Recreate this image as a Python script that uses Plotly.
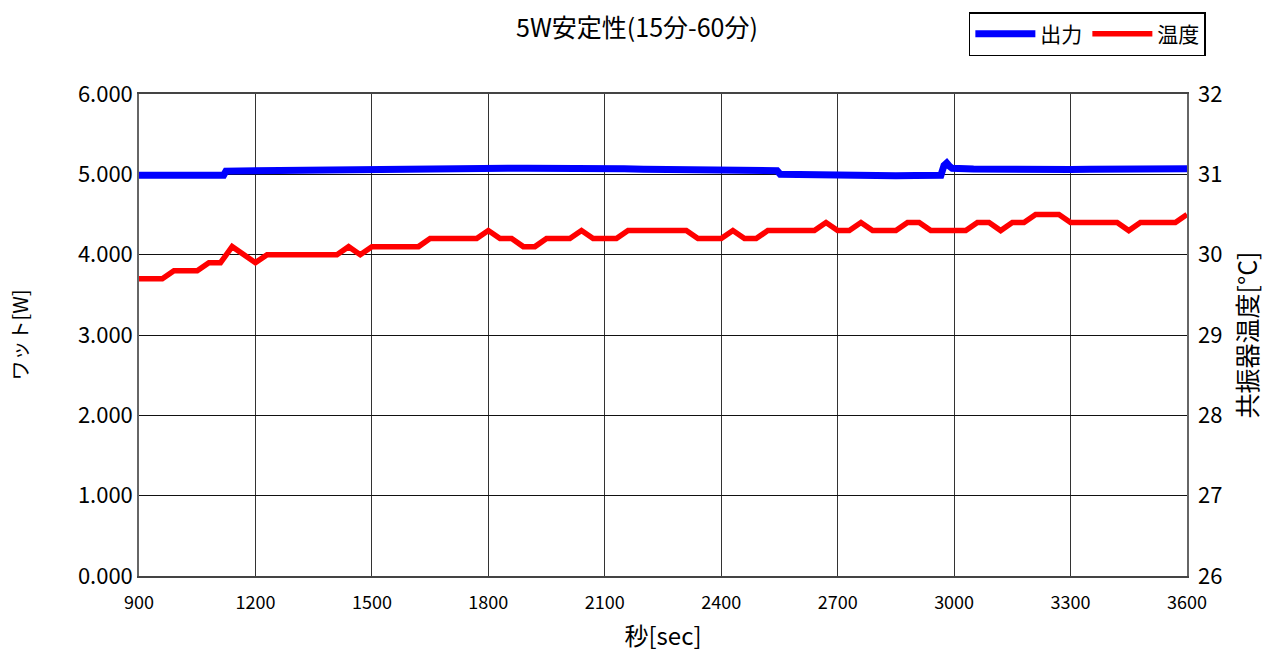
import plotly.graph_objects as go

# Temperature (resonator) every 30 s
temp_time = list(range(900, 3601, 30))
temp_vals = [
    29.7, 29.7, 29.7, 29.8, 29.8, 29.8, 29.9, 29.9, 30.1, 30.0,
    29.9, 30.0, 30.0, 30.0, 30.0, 30.0, 30.0, 30.0, 30.1, 30.0,
    30.1, 30.1, 30.1, 30.1, 30.1, 30.2, 30.2, 30.2, 30.2, 30.2,
    30.3, 30.2, 30.2, 30.1, 30.1, 30.2, 30.2, 30.2, 30.3, 30.2,
    30.2, 30.2, 30.3, 30.3, 30.3, 30.3, 30.3, 30.3, 30.2, 30.2,
    30.2, 30.3, 30.2, 30.2, 30.3, 30.3, 30.3, 30.3, 30.3, 30.4,
    30.3, 30.3, 30.4, 30.3, 30.3, 30.3, 30.4, 30.4, 30.3, 30.3,
    30.3, 30.3, 30.4, 30.4, 30.3, 30.4, 30.4, 30.5, 30.5, 30.5,
    30.4, 30.4, 30.4, 30.4, 30.4, 30.3, 30.4, 30.4, 30.4, 30.4,
    30.5,
]

# Output power
power_time = [900, 950, 1000, 1050, 1100, 1118, 1124, 1150, 1200, 1250, 1300,
              1350, 1400, 1450, 1500, 1550, 1600, 1650, 1700, 1750, 1800,
              1850, 1900, 1950, 2000, 2050, 2100, 2150, 2200, 2250, 2266,
              2272, 2300, 2350, 2400, 2450, 2500, 2544, 2552, 2600, 2650,
              2700, 2750, 2800, 2850, 2900, 2950, 2966, 2974, 2981, 2988,
              2995, 3050, 3100, 3150, 3200, 3250, 3300, 3350, 3400, 3450,
              3500, 3550, 3600]
power_vals = [4.990, 4.992, 4.990, 4.993, 4.990, 4.988, 5.040, 5.042, 5.045, 5.048, 5.050,
              5.055, 5.060, 5.065, 5.070, 5.072, 5.075, 5.078, 5.075, 5.077, 5.075,
              5.076, 5.075, 5.077, 5.075, 5.073, 5.072, 5.068, 5.062, 5.060, 5.060,
              5.045, 5.044, 5.046, 5.045, 5.047, 5.045, 5.045, 5.000, 4.995, 4.990,
              4.982, 4.980, 4.978, 4.982, 4.985, 4.986, 4.988, 5.110, 5.140, 5.100,
              5.075, 5.065, 5.060, 5.058, 5.060, 5.058, 5.060, 5.062, 5.060, 5.062,
              5.065, 5.067, 5.070]

x_ticks = list(range(900, 3601, 300))

FONT = "Noto Sans CJK JP, MS Gothic, sans-serif"

fig = go.Figure()
fig.add_trace(go.Scatter(x=power_time, y=power_vals, mode="lines", name="出力",
                         line=dict(color="#0000ff", width=7), yaxis="y"))
fig.add_trace(go.Scatter(x=temp_time, y=temp_vals, mode="lines", name="温度",
                         line=dict(color="#ff0000", width=5.5), yaxis="y2"))

fig.update_layout(
    width=1266, height=652,
    margin=dict(l=139, r=79, t=94, b=76),
    paper_bgcolor="white", plot_bgcolor="white",
    font=dict(family=FONT, color="black", size=20),
    title=dict(text="5W安定性(15分-60分)", x=637 / 1266, xref="container", xanchor="center",
               y=1 - 28 / 652, yref="container", yanchor="middle",
               font=dict(size=25, family=FONT)),
    showlegend=True,
    legend=dict(orientation="h", x=1.018, xanchor="right", y=(576 - 34) / 482, yanchor="middle",
                bordercolor="black", borderwidth=1.5, bgcolor="white",
                font=dict(size=21, family=FONT), itemwidth=60,
                tracegroupgap=0),
    xaxis=dict(range=[900, 3600], tickvals=x_ticks, ticktext=[str(v) for v in x_ticks],
               showgrid=True, gridcolor="#333", gridwidth=1,
               showline=True, linecolor="#444", linewidth=1.5, mirror=True,
               ticks="", tickfont=dict(size=18), zeroline=False, ticklabelstandoff=10,
               automargin=False,
               title=dict(text="秒[sec]", font=dict(size=24), standoff=20)),
    yaxis=dict(range=[0, 6], dtick=1, tickformat=".3f",
               showgrid=True, gridcolor="#111", gridwidth=1,
               showline=True, linecolor="#666", linewidth=1.5, mirror=True,
               ticks="", tickfont=dict(size=22), zeroline=False, automargin=False,
               title=dict(text="ワット[W]", font=dict(size=20), standoff=44)),
    yaxis2=dict(range=[26, 32], dtick=1, overlaying="y", side="right",
                showgrid=False, showline=False, ticks="", zeroline=False,
                tickfont=dict(size=22), ticklabelstandoff=10, automargin=False,
                title=dict(text="共振器温度[°C]", font=dict(size=25), standoff=18)),
)

fig.write_html("out.html", config={"displayModeBar": False},
               post_script="document.body.style.margin='0';")
